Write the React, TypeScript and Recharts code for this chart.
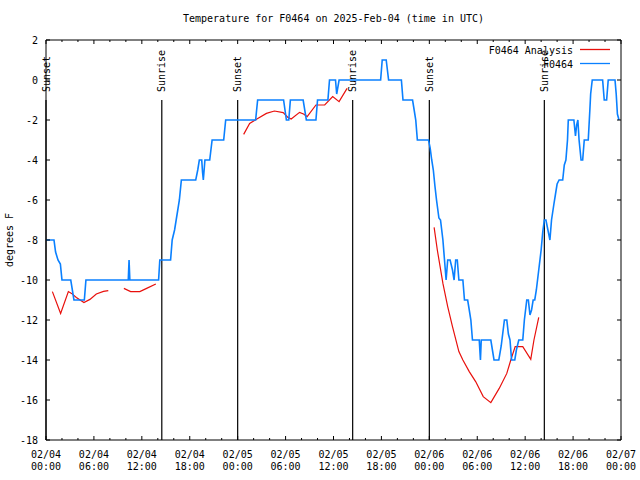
import { LineChart, Line, XAxis, YAxis, ReferenceLine, Legend } from 'recharts';

const FONT = '"DejaVu Sans Mono", "Liberation Mono", monospace';

// hours since 02/04 00:00 UTC
const obsHours = [
  0, 1, 1.2, 1.5, 1.8, 2.0, 3.1, 3.5, 4.8, 5.0, 10.3, 10.4, 10.5, 14.1, 14.25, 15.6, 15.8, 16.1, 16.3, 16.5,
  16.7, 16.95, 18.75, 19.0, 19.2, 19.5, 19.6, 19.7, 19.8, 19.9, 20.5, 20.8, 22.25, 22.5, 26.25, 26.5, 29.75,
  30.1, 30.4, 30.6, 32.2, 32.6, 33.8, 34.0, 35.3, 35.5, 36.25, 36.4, 36.7, 41.9, 42.1, 42.6, 42.9, 44.5, 44.7,
  45.9, 46.1, 46.3, 46.5, 47.9, 48.1, 48.3, 48.5, 48.7, 48.9, 49.2, 49.4, 49.7, 49.9, 50.1, 50.3, 50.6, 50.9,
  51.1, 51.3, 51.5, 51.7, 52.2, 52.4, 52.8, 53.0, 53.2, 53.4, 54.25, 54.4, 54.5, 55.7, 55.9, 56.1, 56.7, 57.0,
  57.4, 57.7, 57.9, 58.1, 58.3, 58.7, 58.9, 59.2, 59.7, 59.9, 60.2, 60.4, 60.6, 60.8, 61.0, 61.2, 61.4, 61.7,
  62.0, 62.2, 62.4, 62.6, 62.85, 63.1, 63.3, 63.6, 63.8, 64.0, 64.25, 64.7, 64.9, 65.1, 65.3, 65.4, 66.1, 66.3,
  66.45, 66.6, 66.75, 67.0, 67.2, 67.4, 67.9, 68.1, 68.2, 68.4, 69.7, 69.9, 70.2, 70.4, 71.25, 71.4, 71.55, 71.75,
];
const obsTemps = [
  -8, -8, -8.6, -9, -9.2, -10, -10, -11, -11, -10, -10, -9, -10, -10, -9, -9, -8, -7.5, -7, -6.5,
  -6, -5, -5, -4.5, -4, -4, -4.6, -5, -4.5, -4, -4, -3, -3, -2, -2, -1, -1,
  -2, -2, -1, -1, -2, -2, -1, -1, 0, 0, -0.7, 0, 0, 1, 1, 0, 0, -1,
  -1, -1.5, -2, -3, -3, -3.4, -4, -4.5, -5.3, -6, -6.9, -7, -8, -9, -10, -9, -9, -9.5,
  -10, -9, -9, -10, -10, -11, -11, -11.5, -12, -13, -13, -14, -13, -13, -13.5, -14, -14, -13.3,
  -12, -12, -12.7, -13, -14, -14, -13.5, -13, -13, -12, -11, -11, -11.75, -11.5, -11, -11, -10.5, -9.5,
  -8.5, -7.6, -7, -7, -7.5, -8, -7, -6.2, -5.7, -5.2, -5, -5, -4.25, -4, -3, -2, -2, -2.8,
  -2.25, -2, -3, -4, -4, -3, -3, -1.5, -0.7, 0, 0, -1, -1, 0, 0, -0.7, -1.7, -2,
];

// analysis, null = no analysis
const anaHours = [
  0.8, 1.83, 2.8, 3.2, 3.8, 4.75, 5.5, 6.3, 7.2, 7.8, 8.8, 9.75, 10.6, 11.75, 12.6, 13.75, 19,
  24.75, 25.5, 26.3, 27.6, 28.6, 29.7, 30.3, 30.7, 31.75, 32.25, 32.7, 33.8, 34.9, 35.9, 36.7, 37.7, 43,
  48.6, 49.0, 49.7, 50.3, 50.9, 51.7, 52.2, 53.0, 53.8, 54.75, 55.7, 56.75, 57.7, 58.2, 58.75, 59.7, 60.7, 61.1, 61.7,
];
const anaTemps = [
  -10.58, -11.67, -10.58, -10.67, -10.87, -11.13, -10.97, -10.7, -10.57, -10.53, null, -10.42, -10.58, -10.58, -10.42, -10.2, null,
  -2.72, -2.17, -1.97, -1.67, -1.55, -1.63, -1.87, -1.95, -1.62, -1.7, -1.83, -1.25, -1.25, -0.83, -1.08, -0.42, null,
  -7.37, -8.5, -10.17, -11.33, -12.33, -13.58, -14, -14.58, -15.08, -15.83, -16.13, -15.42, -14.67, -14, -13.33, -13.33, -13.97, -13, -11.87,
];

const sunsetHours = [0, 24, 48];
const sunriseHours = [14.5, 38.4, 62.4];

const xTicks = Array.from({ length: 37 }, (_, i) => i * 2);
const xDateLabels = ['02/04', '02/04', '02/04', '02/04', '02/05', '02/05', '02/05', '02/05', '02/06', '02/06', '02/06', '02/06', '02/07'];
const xTimeLabels = ['00:00', '06:00', '12:00', '18:00', '00:00', '06:00', '12:00', '18:00', '00:00', '06:00', '12:00', '18:00', '00:00'];
const yTicks = [-18, -16, -14, -12, -10, -8, -6, -4, -2, 0, 2];

const obsData = obsHours.map((h, i) => ({ h, t: obsTemps[i] }));
const anaData = anaHours.map((h, i) => ({ h, t: anaTemps[i] }));

const textStyle = { fontFamily: FONT, fontSize: 10, fill: '#000' };

const BottomTick = (props: any) => {
  const { x, y, payload } = props;
  const h = payload.value;
  const major = h % 6 === 0;
  const k = h / 6;
  return (
    <g>
      <line x1={x} y1={y} x2={x} y2={y - (major ? 4 : 2)} stroke="#000" />
      {major && (
        <text x={x} y={y + 17.5} textAnchor="middle" style={textStyle}>
          <tspan x={x}>{xDateLabels[k]}</tspan>
          <tspan x={x} dy={12.5}>{xTimeLabels[k]}</tspan>
        </text>
      )}
    </g>
  );
};

const TopTick = (props: any) => {
  const { x, y, payload } = props;
  const major = payload.value % 6 === 0;
  return <line x1={x} y1={y} x2={x} y2={y + (major ? 4 : 2)} stroke="#000" />;
};

const LeftTick = (props: any) => {
  const { x, y, payload } = props;
  return (
    <g>
      <line x1={x} y1={y} x2={x + 4} y2={y} stroke="#000" />
      <text x={x - 8} y={y + 3.5} textAnchor="end" style={textStyle}>
        {payload.value}
      </text>
    </g>
  );
};

const RightTick = (props: any) => {
  const { x, y } = props;
  return <line x1={x} y1={y} x2={x - 4} y2={y} stroke="#000" />;
};

const markerLabel = (text: string) => (props: any) => {
  const vb = props.viewBox || {};
  const lx = (vb.x ?? vb.x1 ?? 0) + 3.5;
  const ly = (vb.y ?? vb.y1 ?? 0) - 8;
  return (
    <text x={lx} y={ly} transform={`rotate(-90 ${lx} ${ly})`} textAnchor="start" style={textStyle}>
      {text}
    </text>
  );
};

const yLabel = (props: any) => {
  const vb = props.viewBox || {};
  const lx = (vb.x ?? 0) + 13;
  const ly = (vb.y ?? 0) + (vb.height ?? 0) / 2;
  return (
    <text x={lx} y={ly} transform={`rotate(-90 ${lx} ${ly})`} textAnchor="middle" style={textStyle}>
      degrees F
    </text>
  );
};

const legendItems = [
  { name: 'F0464 Analysis', color: '#e8100c' },
  { name: 'F0464', color: '#0a80ff' },
];

const LegendBox = () => (
  <svg width={150} height={32} style={{ display: 'block' }}>
    {legendItems.map((it, i) => (
      <g key={it.name}>
        <text x={103} y={13.5 + i * 14} textAnchor="end" style={textStyle}>
          {it.name}
        </text>
        <line x1={110} x2={140} y1={9.5 + i * 14} y2={9.5 + i * 14} stroke={it.color} strokeWidth={1.3} />
      </g>
    ))}
  </svg>
);

export default function App() {
  return (
    <div style={{ position: 'absolute', left: 0, top: 0, width: 640, height: 480, background: '#fff' }}>
      <div
        style={{
          position: 'absolute',
          top: 13,
          left: 46,
          width: 575,
          textAlign: 'center',
          fontFamily: FONT,
          fontSize: 10,
          lineHeight: '12px',
          color: '#000',
          zIndex: 2,
        }}
      >
        Temperature for F0464 on 2025-Feb-04 (time in UTC)
      </div>
      <LineChart width={640} height={480} margin={{ top: 0, right: 0, bottom: 0, left: 0 }}>
        <XAxis
          dataKey="h"
          type="number"
          domain={[0, 72]}
          ticks={xTicks}
          interval={0}
          height={40}
          tickSize={0}
          tickMargin={0}
          tickLine={false}
          tick={<BottomTick />}
          axisLine={{ stroke: '#000' }}
          allowDataOverflow
        />
        <XAxis
          xAxisId="top"
          orientation="top"
          dataKey="h"
          type="number"
          domain={[0, 72]}
          ticks={xTicks}
          interval={0}
          height={40}
          tickSize={0}
          tickMargin={0}
          tickLine={false}
          tick={<TopTick />}
          axisLine={{ stroke: '#000' }}
          allowDataOverflow
        />
        <YAxis
          type="number"
          domain={[-18, 2]}
          ticks={yTicks}
          interval={0}
          width={46}
          tickSize={0}
          tickMargin={0}
          tickLine={false}
          tick={<LeftTick />}
          axisLine={{ stroke: '#000' }}
          label={yLabel}
          allowDataOverflow
        />
        <YAxis
          yAxisId="right"
          orientation="right"
          type="number"
          domain={[-18, 2]}
          ticks={yTicks}
          interval={0}
          width={19}
          tickSize={0}
          tickMargin={0}
          tickLine={false}
          tick={<RightTick />}
          axisLine={{ stroke: '#000' }}
          allowDataOverflow
        />
        {sunsetHours.map((h) => (
          <ReferenceLine
            key={`ss${h}`}
            segment={[{ x: h, y: -1 }, { x: h, y: -18 }]}
            stroke="#000"
            strokeWidth={1.2}
            label={markerLabel('Sunset')}
          />
        ))}
        {sunriseHours.map((h) => (
          <ReferenceLine
            key={`sr${h}`}
            segment={[{ x: h, y: -1 }, { x: h, y: -18 }]}
            stroke="#000"
            strokeWidth={1.2}
            label={markerLabel('Sunrise')}
          />
        ))}
        <Line
          data={anaData}
          dataKey="t"
          name="F0464 Analysis"
          type="linear"
          stroke="#e8100c"
          strokeWidth={1.2}
          dot={false}
          isAnimationActive={false}
        />
        <Line
          data={obsData}
          dataKey="t"
          name="F0464"
          type="linear"
          stroke="#0a80ff"
          strokeWidth={1.6}
          dot={false}
          isAnimationActive={false}
        />
        <Legend
          layout="vertical"
          align="center"
          verticalAlign="middle"
          content={() => <LegendBox />}
          wrapperStyle={{ position: 'absolute', left: 470, top: 40, width: 150, height: 32 }}
        />
      </LineChart>
    </div>
  );
}
